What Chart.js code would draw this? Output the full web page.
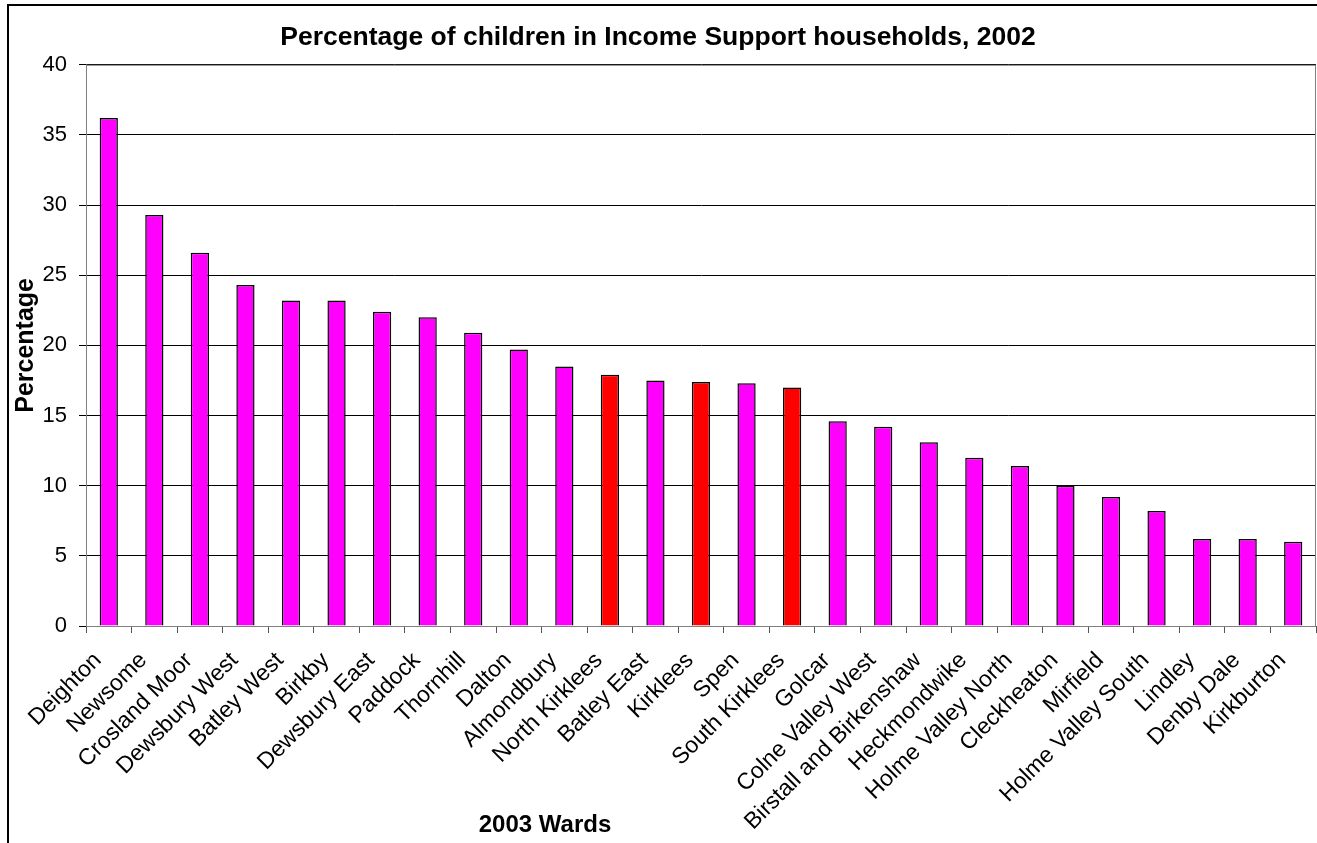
<!DOCTYPE html>
<html>
<head>
<meta charset="utf-8">
<title>Percentage of children in Income Support households, 2002</title>
<script src="https://cdn.jsdelivr.net/npm/chart.js@4/dist/chart.umd.min.js"></script>
<style>
  body { margin: 0; background: #fff; }
  canvas { display: block; }
</style>
</head>
<body>
<canvas id="grafico" width="1317" height="843"></canvas>
<script>
const wards = [
  "Deighton", "Newsome", "Crosland Moor", "Dewsbury West", "Batley West",
  "Birkby", "Dewsbury East", "Paddock", "Thornhill", "Dalton", "Almondbury",
  "North Kirklees", "Batley East", "Kirklees", "Spen", "South Kirklees",
  "Golcar", "Colne Valley West", "Birstall and Birkenshaw", "Heckmondwike",
  "Holme Valley North", "Cleckheaton", "Mirfield", "Holme Valley South",
  "Lindley", "Denby Dale", "Kirkburton"
];
const percentages = [
  36.2, 29.3, 26.6, 24.3, 23.2, 23.2, 22.4, 22.0, 20.9, 19.7, 18.5,
  17.9, 17.5, 17.4, 17.3, 17.0, 14.6, 14.2, 13.1, 12.0,
  11.4, 10.0, 9.2, 8.2, 6.2, 6.2, 6.0
];
// totals for the district and its two halves are shown in red
const destaques = ["North Kirklees", "Kirklees", "South Kirklees"];
const yMin = 0;
const yMax = 40;
const yStep = 5;

const fonte = "'Liberation Sans', Arial, sans-serif";

const cores = wards.map(w => destaques.includes(w) ? "#ff0000" : "#ff00ff");

const moldura = {
  id: "moldura",
  beforeDraw(chart) {
    const ctx = chart.ctx;
    ctx.save();
    ctx.fillStyle = "#fff";
    ctx.fillRect(0, 0, chart.width, chart.height);
    ctx.strokeStyle = "#000";
    ctx.lineWidth = 2;
    ctx.beginPath();
    ctx.moveTo(8, chart.height);
    ctx.lineTo(8, 5);
    ctx.lineTo(chart.width, 5);
    ctx.stroke();
    ctx.restore();
  },
  afterDraw(chart) {
    const ctx = chart.ctx;
    const a = chart.chartArea;
    ctx.save();
    ctx.strokeStyle = "#808080";
    ctx.lineWidth = 1;
    ctx.strokeRect(a.left + 0.5, a.top + 0.5, a.right - a.left - 1, a.bottom - a.top);
    ctx.fillStyle = "#000";
    ctx.font = "bold 24px " + fonte;
    ctx.textAlign = "center";
    ctx.textBaseline = "middle";
    ctx.fillText("2003 Wards", 545, 825);
    ctx.restore();
  }
};

new Chart(document.getElementById("grafico"), {
  type: "bar",
  data: {
    labels: wards,
    datasets: [{
      data: percentages,
      backgroundColor: cores,
      borderColor: "#000",
      borderWidth: 1.5,
      barPercentage: 0.4,
      categoryPercentage: 1
    }]
  },
  options: {
    responsive: false,
    animation: false,
    layout: { padding: { left: 0, right: 1, top: 0, bottom: 0 } },
    plugins: {
      legend: { display: false },
      tooltip: { enabled: false },
      title: {
        display: true,
        text: "Percentage of children in Income Support households, 2002",
        color: "#000",
        font: { family: fonte, size: 26.5, weight: "bold" },
        padding: { top: 22, bottom: 11 }
      }
    },
    scales: {
      x: {
        grid: { drawOnChartArea: false, drawTicks: true, tickLength: 7, color: "#555", offset: true },
        border: { color: "#555", width: 1 },
        ticks: {
          color: "#000",
          font: { family: fonte, size: 23 },
          maxRotation: 45,
          minRotation: 45,
          autoSkip: false,
          padding: 14,
          labelOffset: -11
        },
        afterFit(scale) {
          scale.height = 217;
          scale.paddingLeft = 0;
          scale.paddingRight = 0;
        }
      },
      y: {
        min: yMin,
        max: yMax,
        ticks: {
          stepSize: yStep,
          color: "#000",
          font: { family: fonte, size: 22 },
          padding: 12
        },
        grid: { color: "#000", lineWidth: 1, drawTicks: true, tickLength: 7 },
        border: { color: "#555", width: 1 },
        title: {
          display: true,
          text: "Percentage",
          color: "#000",
          font: { family: fonte, size: 25, weight: "bold" },
          padding: { top: 11, bottom: 0 }
        },
        afterFit(scale) { scale.width = 86; }
      }
    }
  },
  plugins: [moldura]
});
</script>
</body>
</html>
